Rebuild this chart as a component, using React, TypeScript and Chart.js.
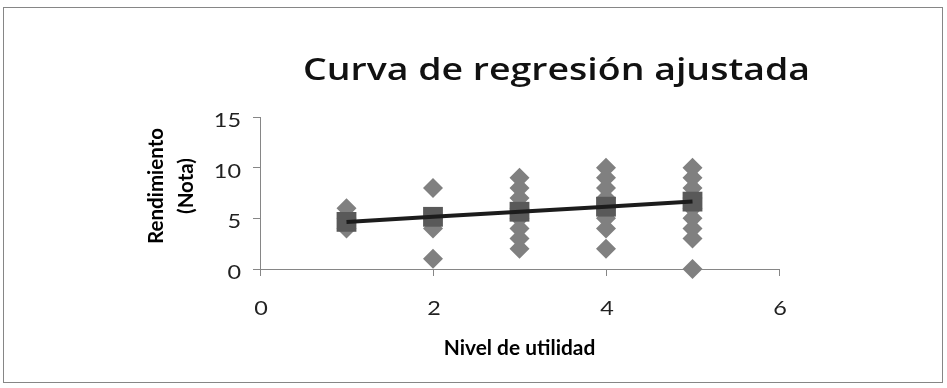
import React, { useEffect, useRef } from "react";
import { Chart, registerables } from "chart.js";

Chart.register(...registerables);

// ---- Data ----
const chartTitle = "Curva de regresión ajustada";
const xAxisTitle = "Nivel de utilidad";
const yAxisTitle = ["Rendimiento", "(Nota)"];
const xTicks = [0, 2, 4, 6];
const yTicks = [0, 5, 10, 15];
const nivel = [1, 2, 3, 4, 5];
const notasNivel1 = [4, 5, 6];
const notasNivel2 = [1, 4, 5, 8];
const notasNivel3 = [2, 3, 4, 5, 6, 7, 8, 9];
const notasNivel4 = [2, 4, 5, 6, 7, 8, 9, 10];
const notasNivel5 = [0, 3, 4, 5, 6, 7, 8, 9, 10];
const notaAjustada = [4.65, 5.15, 5.65, 6.15, 6.65];

const FONT = "Lato, 'Open Sans', sans-serif";
const TITLE_FONT = "'Open Sans', Lato, sans-serif";

function drawText(
  ctx: CanvasRenderingContext2D,
  text: string,
  x: number,
  y: number,
  font: string,
  color: string,
  align: CanvasTextAlign,
  sx: number,
  rot = 0
) {
  ctx.save();
  ctx.font = font;
  ctx.fillStyle = color;
  ctx.textAlign = align;
  ctx.textBaseline = "alphabetic";
  ctx.translate(x, y);
  if (rot) ctx.rotate(rot);
  ctx.scale(sx, 1);
  ctx.fillText(text, 0, 0);
  ctx.restore();
}

const textPlugin = {
  id: "excelText",
  beforeDraw(chart: any) {
    const ctx = chart.ctx as CanvasRenderingContext2D;
    ctx.save();
    ctx.fillStyle = "#ffffff";
    ctx.fillRect(0, 0, chart.width, chart.height);
    ctx.strokeStyle = "#868686";
    ctx.lineWidth = 1;
    ctx.strokeRect(3.5, 7.5, 939, 375);
    ctx.restore();
  },
  afterDraw(chart: any) {
    const ctx = chart.ctx as CanvasRenderingContext2D;
    const xs = chart.scales.x;
    const ys = chart.scales.y;

    // Title (stretched horizontally like the reference)
    const titleFont = `600 30px ${TITLE_FONT}`;
    ctx.save();
    ctx.font = titleFont;
    const tw = ctx.measureText(chartTitle).width;
    ctx.restore();
    drawText(ctx, chartTitle, 556.5, 80, titleFont, "#111111", "center", 507 / tw);

    // Tick labels
    const tickFont = `normal 19.5px ${FONT}`;
    yTicks.forEach((v) => {
      const py = ys.getPixelForValue(v);
      drawText(ctx, String(v), 241, py + 10, tickFont, "#222222", "right", 1.2);
    });
    xTicks.forEach((v) => {
      const px = xs.getPixelForValue(v);
      drawText(ctx, String(v), px + 1, 314.5, tickFont, "#222222", "center", 1.2);
    });

    // Axis titles
    const axFont = `bold 20.5px ${FONT}`;
    drawText(ctx, xAxisTitle, (chart.chartArea.left + chart.chartArea.right) / 2, 355, axFont, "#000000", "center", 1.02);
    drawText(ctx, yAxisTitle[0], 163, 186, axFont, "#000000", "center", 1, -Math.PI / 2);
    drawText(ctx, yAxisTitle[1], 193, 186, axFont, "#000000", "center", 1, -Math.PI / 2);
  },
};

export default function App() {
  const canvasRef = useRef<HTMLCanvasElement | null>(null);

  useEffect(() => {
    if (!canvasRef.current) return;
    const grupos = [notasNivel1, notasNivel2, notasNivel3, notasNivel4, notasNivel5];
    const observados = grupos.flatMap((arr, i) => arr.map((y) => ({ x: nivel[i], y })));
    const ajustados = nivel.map((x, i) => ({ x, y: notaAjustada[i] }));

    const chart = new Chart(canvasRef.current, {
      type: "scatter",
      data: {
        datasets: [
          {
            label: "Recta ajustada",
            data: ajustados,
            showLine: true,
            borderColor: "#1c1c1c",
            borderWidth: 4,
            pointRadius: 0,
            order: 0,
            clip: false,
          } as any,
          {
            label: "Pronosticado",
            data: ajustados,
            pointStyle: "rect",
            pointRadius: 14,
            backgroundColor: "#595959",
            borderWidth: 0,
            order: 1,
            clip: false,
          },
          {
            label: "Observado",
            data: observados,
            pointStyle: "rectRot",
            pointRadius: 10,
            backgroundColor: "#808080",
            borderWidth: 0,
            order: 2,
            clip: false,
          },
        ],
      },
      options: {
        responsive: false,
        animation: false,
        layout: { padding: { left: 0, top: 117, right: 168, bottom: 0 } },
        plugins: {
          legend: { display: false },
          tooltip: { enabled: false },
          title: { display: false },
        },
        scales: {
          x: {
            type: "linear",
            min: 0,
            max: 6,
            afterBuildTicks: (s: any) => {
              s.ticks = xTicks.map((v) => ({ value: v }));
            },
            afterFit: (s: any) => {
              s.height = 119;
            },
            ticks: { display: false },
            grid: {
              display: true,
              drawOnChartArea: false,
              drawTicks: true,
              tickLength: 7,
              color: "#868686",
            },
            border: { display: true, color: "#868686", width: 1 },
          },
          y: {
            type: "linear",
            min: 0,
            max: 15,
            afterBuildTicks: (s: any) => {
              s.ticks = yTicks.map((v) => ({ value: v }));
            },
            afterFit: (s: any) => {
              s.width = 260;
            },
            ticks: { display: false },
            grid: {
              display: true,
              drawOnChartArea: false,
              drawTicks: true,
              tickLength: 7,
              color: "#868686",
            },
            border: { display: true, color: "#868686", width: 1 },
          },
        },
      },
      plugins: [textPlugin],
    });
    return () => chart.destroy();
  }, []);

  return (
    <div style={{ position: "absolute", left: 0, top: 0, width: 947, height: 388, background: "#fff" }}>
      <canvas ref={canvasRef} width={947} height={388} style={{ display: "block" }} />
    </div>
  );
}
